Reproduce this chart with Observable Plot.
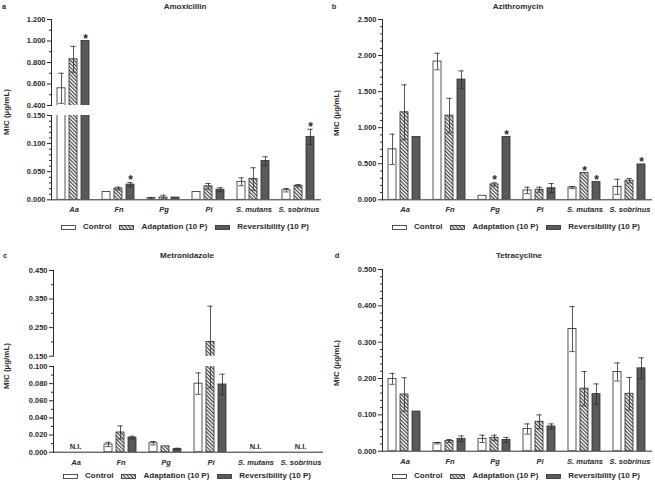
<!DOCTYPE html>
<html><head><meta charset="utf-8">
<script src="https://cdn.jsdelivr.net/npm/d3@7"></script>
<script src="https://cdn.jsdelivr.net/npm/@observablehq/plot@0.6"></script>
<style>
body{margin:0;background:#fff;}
#root{position:relative;width:655px;height:483px;overflow:hidden;font-family:"Liberation Sans",Arial,sans-serif;font-weight:bold;color:#2b2b2b;}
#root > svg{overflow:visible;}
.abs{position:absolute;line-height:1;white-space:nowrap;}
.letter{font-size:7.5px;transform:translate(-50%,-50%);}
.title{font-size:8px;transform:translate(-50%,-50%);}
.ylab{font-size:8px;transform:translate(-50%,-50%) rotate(-90deg);}
.legend{display:flex;align-items:center;font-size:8px;transform:translate(-50%,-50%);}
.legend .item{display:flex;align-items:center;margin:0 4px;}
.legend svg{margin-right:7px;}
g[aria-label="fx-axis tick label"] text{font-style:italic;}
</style></head>
<body>
<svg width="0" height="0" style="position:absolute">
  <defs>
    <pattern id="hatch" patternUnits="userSpaceOnUse" width="2.6" height="2.6" patternTransform="rotate(-45)">
      <rect width="2.6" height="2.6" fill="white"/>
      <line x1="0.6" y1="0" x2="0.6" y2="2.6" stroke="#333" stroke-width="1.1"/>
    </pattern>
  </defs>
</svg>
<div id="root"></div>
<script>
const categories = ["Aa", "Fn", "Pg", "Pi", "S. mutans", "S. sobrinus"];
const series = ["Control", "Adaptation (10 P)", "Reversibility (10 P)"];

// a — Amoxicillin
const amoxControl    = [0.56, 0.014, 0.003, 0.014, 0.032, 0.017];
const amoxControlErr = [0.14, null, 0.001, null, 0.007, 0.003];
const amoxAdapt      = [0.83, 0.020, 0.004, 0.024, 0.037, 0.025];
const amoxAdaptErr   = [0.12, 0.0025, 0.004, 0.005, 0.020, 0.002];
const amoxRev        = [1.000, 0.027, 0.004, 0.018, 0.069, 0.112];
const amoxRevErr     = [null, 0.0035, null, 0.0035, 0.0075, 0.0135];
const amoxStarControl = [0, 0, 0, 0, 0, 0];
const amoxStarAdapt   = [0, 0, 0, 0, 0, 0];
const amoxStarRev     = [1, 1, 0, 0, 0, 1];
const amoxUpperTicks = [0.4, 0.6, 0.8, 1.0, 1.2];
const amoxUpperMinor = [0.5, 0.7, 0.9, 1.1];
const amoxLowerTicks = [0, 0.05, 0.10, 0.15];
const amoxLowerMinor = [0.01, 0.02, 0.03, 0.04, 0.06, 0.07, 0.08, 0.09, 0.11, 0.12, 0.13, 0.14];

// b — Azithromycin
const azitControl    = [0.70, 1.917, 0.056, 0.13, 0.17, 0.18];
const azitControlErr = [0.21, 0.115, null, 0.045, 0.015, 0.105];
const azitAdapt      = [1.213, 1.167, 0.213, 0.14, 0.37, 0.265];
const azitAdaptErr   = [0.38, 0.24, 0.022, 0.035, null, 0.03];
const azitRev        = [0.87, 1.667, 0.87, 0.16, 0.245, 0.49];
const azitRevErr     = [null, 0.12, null, 0.065, null, null];
const azitStarControl = [0, 0, 0, 0, 0, 0];
const azitStarAdapt   = [0, 0, 1, 0, 1, 0];
const azitStarRev     = [0, 0, 1, 0, 1, 1];
const azitTicks = [0, 0.5, 1.0, 1.5, 2.0, 2.5];
const azitMinor = [0.1, 0.2, 0.3, 0.4, 0.6, 0.7, 0.8, 0.9, 1.1, 1.2, 1.3, 1.4, 1.6, 1.7, 1.8, 1.9, 2.1, 2.2, 2.3, 2.4];

// c — Metronidazole
const metroControl    = [null, 0.009, 0.0105, 0.080, null, null];
const metroControlErr = [null, 0.0025, 0.002, 0.0125, null, null];
const metroAdapt      = [null, 0.023, 0.0068, 0.200, null, null];
const metroAdaptErr   = [null, 0.0076, null, 0.125, null, null];
const metroRev        = [null, 0.017, 0.0036, 0.079, null, null];
const metroRevErr     = [null, 0.0016, 0.001, 0.012, null, null];
const metroStars      = [0, 0, 0, 0, 0, 0];
const metroNI         = [1, 0, 0, 0, 1, 1];
const metroUpperTicks = [0.15, 0.25, 0.35, 0.45];
const metroUpperMinor = [0.2, 0.3, 0.4];
const metroLowerTicks = [0, 0.02, 0.04, 0.06, 0.08, 0.10];
const metroLowerMinor = [0.01, 0.03, 0.05, 0.07, 0.09];

// d — Tetracycline
const tetraControl    = [0.199, 0.022, 0.034, 0.061, 0.336, 0.218];
const tetraControlErr = [0.015, 0.002, 0.010, 0.014, 0.062, 0.025];
const tetraAdapt      = [0.156, 0.028, 0.037, 0.081, 0.172, 0.158];
const tetraAdaptErr   = [0.046, 0.004, 0.007, 0.019, 0.047, 0.045];
const tetraRev        = [0.109, 0.034, 0.031, 0.068, 0.157, 0.228];
const tetraRevErr     = [null, 0.008, 0.007, 0.007, 0.028, 0.029];
const tetraStars      = [0, 0, 0, 0, 0, 0];
const tetraTicks = [0, 0.1, 0.2, 0.3, 0.4, 0.5];
const tetraMinor = [0.02, 0.04, 0.06, 0.08, 0.12, 0.14, 0.16, 0.18, 0.22, 0.24, 0.26, 0.28, 0.32, 0.34, 0.36, 0.38, 0.42, 0.44, 0.46, 0.48];

const INK = "#2b2b2b";
const FONT = '"Liberation Sans", Arial, sans-serif';
const fills = ["white", "url(#hatch)", "#5a5a5a"];
const root = document.getElementById("root");

function buildRows(vals, errs, stars) {
  const rows = [];
  categories.forEach((c, i) => series.forEach((s, j) => {
    rows.push({cat: c, series: s, s: j, mean: vals[j][i], err: errs[j][i], star: stars[j][i]});
  }));
  return rows;
}

function segment(rows, o) {
  const MT = 10, MB = o.fxAxis ? 18 : 6, ML = 40, MR = 3;
  const [lo, hi] = o.domain;
  const inDom = v => v >= lo - 1e-9 && v <= hi + 1e-9;
  const bars = rows.filter(d => d.mean != null);
  const errs = bars.filter(d => d.err != null);
  const stars = bars.filter(d => d.star && inDom(d.mean + (d.err || 0)));
  const base = {fx: "cat", x: "series"};
  const marks = [
    ...series.map((s, j) => Plot.barY(bars.filter(d => d.s === j),
      {...base, y: "mean", fill: fills[j], stroke: INK, strokeWidth: 0.8, clip: true})),
    Plot.ruleX(errs, {...base, y1: d => d.mean - d.err, y2: d => d.mean + d.err, stroke: INK, strokeWidth: 0.8, clip: true}),
    Plot.tickY(errs, {...base, y: d => d.mean + d.err, insetLeft: 1.3, insetRight: 1.3, stroke: INK, strokeWidth: 0.8, clip: true}),
    Plot.tickY(errs, {...base, y: d => d.mean - d.err, insetLeft: 1.3, insetRight: 1.3, stroke: INK, strokeWidth: 0.8, clip: true}),
    Plot.text(stars, {...base, y: d => d.mean + (d.err || 0), text: () => "*", fontSize: 12, fontWeight: "bold", lineAnchor: "bottom", dy: 1.5, fill: INK}),
    Plot.frame({anchor: "left", facetAnchor: "left", stroke: INK, strokeWidth: 1}),
    Plot.axisY({ticks: o.minor, tickSize: 2, tickFormat: () => "", stroke: INK, label: null, facetAnchor: "left"}),
    Plot.axisY({ticks: o.major, tickSize: 4, tickPadding: 2, tickFormat: d3.format(".3f"), stroke: INK, fill: INK, label: null, facetAnchor: "left"})
  ];
  if (o.fxAxis) {
    marks.push(Plot.ruleY([0], {stroke: INK, strokeWidth: 1}));
    marks.push(Plot.axisFx({anchor: "bottom", tickSize: 0, tickPadding: 7, label: null, fontStyle: "italic", fill: INK}));
  }
  if (o.ni) {
    const niCats = categories.filter((c, i) => o.ni[i]);
    marks.push(Plot.text(niCats, {fx: d => d, x: () => series[1], y: () => 0, text: () => "N.I.", lineAnchor: "bottom", dy: -3, fill: INK}));
  }
  const svg = Plot.plot({
    width: ML + o.fw + MR, height: MT + o.fh + MB,
    marginLeft: ML, marginRight: MR, marginTop: MT, marginBottom: MB,
    style: {background: "none", fontFamily: FONT, fontWeight: "bold", fontSize: "7.5px", color: INK, overflow: "visible"},
    fx: {domain: categories, padding: 0, axis: o.fxAxis ? undefined : null, label: null},
    x: {domain: series, paddingInner: 0.33, paddingOuter: 0.47, axis: null},
    y: {domain: o.domain, label: null},
    marks
  });
  svg.style.position = "absolute";
  svg.style.left = (o.frameLeft - ML) + "px";
  svg.style.top = (o.frameTop - MT) + "px";
  root.appendChild(svg);
}

function text(str, x, y, cls) {
  const el = document.createElement("div");
  el.className = "abs " + cls;
  el.textContent = str;
  el.style.left = x + "px";
  el.style.top = y + "px";
  root.appendChild(el);
}

function legend(cx, cy) {
  const el = document.createElement("div");
  el.className = "abs legend";
  el.style.left = cx + "px";
  el.style.top = cy + "px";
  series.forEach((s, j) => {
    const item = document.createElement("div");
    item.className = "item";
    item.innerHTML = `<svg width="15" height="5"><rect x="0.5" y="0.5" width="14" height="4" fill="${fills[j]}" stroke="${INK}" stroke-width="0.8"/></svg><span>${s}</span>`;
    el.appendChild(item);
  });
  root.appendChild(el);
}

// Panel a
const amoxRows = buildRows([amoxControl, amoxAdapt, amoxRev], [amoxControlErr, amoxAdaptErr, amoxRevErr], [amoxStarControl, amoxStarAdapt, amoxStarRev]);
segment(amoxRows, {domain: [0.4, 1.2], major: amoxUpperTicks, minor: amoxUpperMinor, frameLeft: 49, frameTop: 19, fw: 273, fh: 86, fxAxis: false});
segment(amoxRows, {domain: [0, 0.15], major: amoxLowerTicks, minor: amoxLowerMinor, frameLeft: 49, frameTop: 115, fw: 273, fh: 84.3, fxAxis: true});
text("a", 4, 7, "letter");
text("Amoxicillin", 185, 7, "title");
text("MIC (µg/mL)", 7, 112, "ylab");
legend(185, 227);

// Panel b
const azitRows = buildRows([azitControl, azitAdapt, azitRev], [azitControlErr, azitAdaptErr, azitRevErr], [azitStarControl, azitStarAdapt, azitStarRev]);
segment(azitRows, {domain: [0, 2.5], major: azitTicks, minor: azitMinor, frameLeft: 382, frameTop: 19, fw: 270, fh: 180.3, fxAxis: true});
text("b", 334, 7, "letter");
text("Azithromycin", 518, 7, "title");
text("MIC (µg/mL)", 337, 113, "ylab");
legend(516, 227);

// Panel c
const metroRows = buildRows([metroControl, metroAdapt, metroRev], [metroControlErr, metroAdaptErr, metroRevErr], [metroStars, metroStars, metroStars]);
segment(metroRows, {domain: [0.15, 0.45], major: metroUpperTicks, minor: metroUpperMinor, frameLeft: 52, frameTop: 270, fw: 272, fh: 85.7, fxAxis: false});
segment(metroRows, {domain: [0, 0.1], major: metroLowerTicks, minor: metroLowerMinor, frameLeft: 52, frameTop: 366, fw: 272, fh: 85.7, fxAxis: true, ni: metroNI});
text("c", 5, 256, "letter");
text("Metronidazole", 187, 256, "title");
text("MIC (µg/mL)", 7, 366, "ylab");
legend(187, 476);

// Panel d
const tetraRows = buildRows([tetraControl, tetraAdapt, tetraRev], [tetraControlErr, tetraAdaptErr, tetraRevErr], [tetraStars, tetraStars, tetraStars]);
segment(tetraRows, {domain: [0, 0.5], major: tetraTicks, minor: tetraMinor, frameLeft: 382, frameTop: 269, fw: 270, fh: 181.7, fxAxis: true});
text("d", 337, 256, "letter");
text("Tetracycline", 519, 256, "title");
text("MIC (µg/mL)", 337, 363, "ylab");
legend(516, 476);
</script>
</body></html>
